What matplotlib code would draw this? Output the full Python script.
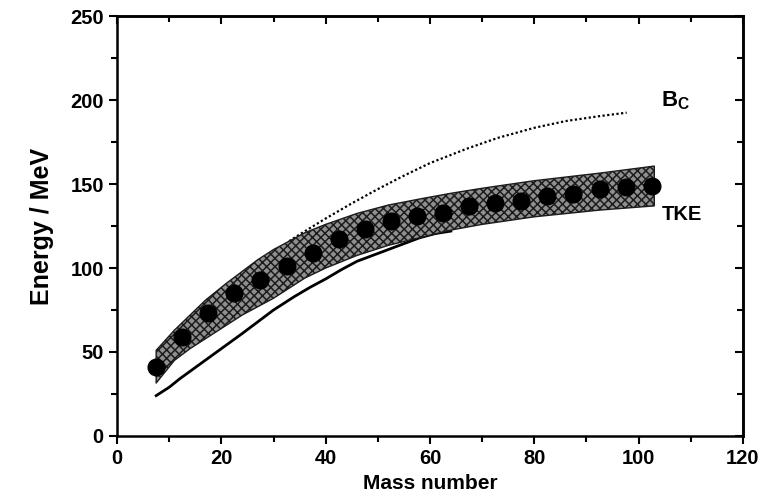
#!/usr/bin/env python3
import numpy as np
import matplotlib
matplotlib.use("Agg")
import matplotlib.pyplot as plt
from matplotlib.ticker import MultipleLocator

# measured TKE (dots)
mass_tke = [7.5, 12.5, 17.5, 22.5, 27.5, 32.5, 37.5, 42.5, 47.5, 52.5,
            57.5, 62.5, 67.5, 72.5, 77.5, 82.5, 87.5, 92.5, 97.5, 102.5]
tke = [41, 59, 73, 85, 93, 101, 109, 117, 123, 128,
       131, 133, 137, 139, 140, 143, 144, 147, 148, 149]

# shaded band (upper / lower edge), read on the same mass grid
band_mass = [7.5, 11, 14, 17, 21, 24, 27, 30, 33, 36, 40, 46, 52, 58.7, 64, 70, 80, 92.5, 103]
band_up = [51, 63, 72, 81, 91, 98, 105, 111, 116, 121, 126, 132.5, 137.5, 141.5, 144.5, 147.5, 152, 156.5, 160.7]
band_lo = [31.5, 45, 52, 58, 66, 72, 77, 82, 88, 94, 100, 107.5, 113.5, 118.6, 122.6, 126, 130.5, 134.5, 137]

# solid curve
mass_sys = [7.5, 10, 12, 16, 20, 24, 27, 30, 34, 37, 40, 43, 46, 49, 52, 55, 58, 61, 64]
e_sys = [24, 29, 34, 43, 52, 61, 68, 75, 83, 88.5, 93.5, 99, 104, 107.5, 111, 114.5, 118, 120.5, 122]

# Coulomb barrier (dotted)
mass_bc = [33, 35, 40, 45, 50, 55, 60, 67, 73, 80, 86, 92.6, 97.7]
e_bc = [116, 120, 129.5, 138.5, 147, 155, 162.5, 171, 177.5, 183.5, 187.5, 190.5, 192.5]

plt.rcParams["font.family"] = ["Liberation Sans", "DejaVu Sans"]
plt.rcParams["mathtext.fontset"] = "custom"
plt.rcParams["mathtext.bf"] = "Liberation Sans:bold"
plt.rcParams["mathtext.rm"] = "Liberation Sans"
plt.rcParams["hatch.linewidth"] = 1.1

fig = plt.figure(figsize=(7.72, 5.04), dpi=100)
ax = fig.add_axes([0.1516, 0.135, 0.8108, 0.833])

ax.plot(mass_sys, e_sys, color="black", lw=2.0, zorder=2)
ax.plot(mass_bc, e_bc, color="black", lw=1.6, linestyle=(0, (1, 1.1)), zorder=2)
ax.fill_between(band_mass, band_lo, band_up, facecolor="#8f8f8f", edgecolor="#1c1c1c",
                hatch="xxxx", linewidth=1.0, zorder=3)
ax.plot(mass_tke, tke, "o", color="black", markersize=12, zorder=4)

ax.text(104.3, 196, r"$\mathbf{B}_\mathbf{C}$", fontsize=16, zorder=5)
ax.text(104.5, 128.6, "TKE", fontsize=14.5, fontweight="bold", zorder=5)

ax.set_xlim(0, 120)
ax.set_ylim(0, 250)
ax.xaxis.set_major_locator(MultipleLocator(20))
ax.xaxis.set_minor_locator(MultipleLocator(10))
ax.yaxis.set_major_locator(MultipleLocator(50))
ax.yaxis.set_minor_locator(MultipleLocator(25))
ax.tick_params(which="both", direction="out", width=1.5, labelsize=14.5)
ax.tick_params(which="major", length=6)
ax.tick_params(which="minor", length=4)
for lab in ax.get_xticklabels() + ax.get_yticklabels():
    lab.set_fontweight("bold")

# inward ticks on top and right
top = ax.secondary_xaxis("top")
top.xaxis.set_major_locator(MultipleLocator(20))
top.xaxis.set_minor_locator(MultipleLocator(10))
top.tick_params(which="both", direction="in", width=1.5, labeltop=False)
top.tick_params(which="major", length=6)
top.tick_params(which="minor", length=4)
right = ax.secondary_yaxis("right")
right.yaxis.set_major_locator(MultipleLocator(50))
right.yaxis.set_minor_locator(MultipleLocator(25))
right.tick_params(which="both", direction="in", width=1.5, labelright=False)
right.tick_params(which="major", length=6)
right.tick_params(which="minor", length=4)

for sp in list(ax.spines.values()) + [top.spines["top"], right.spines["right"]]:
    sp.set_linewidth(1.8)

ax.set_xlabel("Mass number", fontsize=15, fontweight="bold", labelpad=4)
ax.set_ylabel("Energy / MeV", fontsize=18, fontweight="bold", labelpad=12)

fig.savefig("out.png", dpi=100)
plt.close(fig)
